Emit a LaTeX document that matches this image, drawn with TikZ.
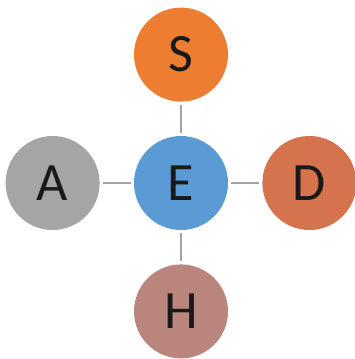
\documentclass[tikz,border=0pt]{standalone}
\usepackage{fontspec}
\setmainfont{Carlito}
\usetikzlibrary{positioning}
\definecolor{orangeS}{HTML}{ED7D31}
\definecolor{blueE}{HTML}{5B9BD5}
\definecolor{grayA}{HTML}{A5A5A5}
\definecolor{redD}{HTML}{D4734D}
\definecolor{roseH}{HTML}{B9857D}
\definecolor{lien}{HTML}{A3A3A3}
\begin{document}
\begin{tikzpicture}[x=1pt,y=1pt,
    bulle/.style={circle,minimum size=94pt,inner sep=0pt,
        font=\fontsize{54}{60}\selectfont,text=black!90},
    lien/.style={draw=lien,line width=1.2pt,shorten >=3pt,shorten <=3pt},
    node distance=34pt]
            \useasboundingbox (0,0) rectangle (355,-359);
            \node [bulle,fill=blueE] (E) at (181,-183) {E};
            \node [bulle,fill=orangeS,above=of E] (S) {S};
            \node [bulle,fill=grayA,left=of E] (A) {A};
            \node [bulle,fill=redD,right=of E] (D) {D};
            \node [bulle,fill=roseH,below=of E] (H) {H};
            \foreach \v in {S,A,D,H}
                \draw [lien] (E) -- (\v);
        \end{tikzpicture}
\end{document}
